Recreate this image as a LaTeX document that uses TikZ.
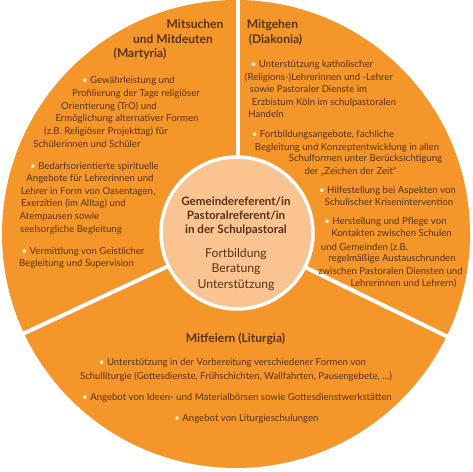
\documentclass[tikz,border=0pt]{standalone}
\usepackage{fontspec}
\setmainfont{Lato}
\usepackage{xcolor}
\definecolor{ringorange}{HTML}{F4962A}
\definecolor{hubpeach}{HTML}{F9C48F}
\definecolor{inkbrown}{HTML}{553219}
\definecolor{dotcream}{HTML}{FFF3C8}
\newcommand{\blt}{{\color{dotcream}\textbullet}\ }

\begin{document}
\begin{tikzpicture}[x=1pt, y=1pt,
		body/.style={anchor=base, inner sep=0pt, text=inkbrown, font=\fontsize{9.6}{11}\selectfont},
		head/.style={anchor=base, inner sep=0pt, text=inkbrown, font=\fontsize{12}{14}\selectfont\bfseries},
		hubhead/.style={anchor=base, inner sep=0pt, text=inkbrown, font=\fontsize{11.6}{14}\selectfont\bfseries},
		hubbody/.style={anchor=base, inner sep=0pt, text=inkbrown, font=\fontsize{12.2}{14}\selectfont}]
			\useasboundingbox (-237, -237) rectangle (236, 234);
			
			%Disc
			\fill[ringorange] (-1, 0) circle(234);
			
			%Dividers
			\draw[white, line width=4pt] (1, 77) -- (1, 236);
			\draw[white, line width=4pt] (205:77) -- (205:240);
			\draw[white, line width=4pt] (334:77) -- (334:240);
			
			%Hub
			\filldraw[fill=hubpeach, draw=white, line width=3.5pt] (0, 1) circle(76);
			
			%Martyria
			\node[head] (mt1) at (-42, 205) {Mitsuchen};
			\node[head] (mt2) at (-64, 190) {und Mitdeuten};
			\node[head] (mt3) at (-97, 176) {(Martyria)};
			
			\node[body] (ma1) at (-108.5, 150) {\blt Gewährleistung und};
			\node[body] (ma2) at (-101, 137) {Profilierung der Tage religiöser};
			\node[body] (ma3) at (-128, 124.5) {Orientierung (TrO) und};
			\node[body] (ma4) at (-110, 112) {Ermöglichung alternativer Formen};
			\node[body] (ma5) at (-131, 99.5) {(z.B. Religiöser Projekttag) für};
			\node[body] (ma6) at (-150, 87) {Schülerinnen und Schüler};
			
			\node[body] (mb1) at (-142.5, 65) {\blt Bedarfsorientierte spirituelle};
			\node[body] (mb2) at (-147, 53) {Angebote für Lehrerinnen und};
			\node[body] (mb3) at (-149, 40) {Lehrer in Form von Oasentagen,};
			\node[body] (mb4) at (-163.5, 28) {Exerzitien (im Alltag) und};
			\node[body] (mb5) at (-177.5, 15) {Atempausen sowie};
			\node[body] (mb6) at (-166, 2) {seelsorgliche Begleitung};
			
			\node[body] (mc1) at (-154, -20) {\blt Vermittlung von Geistlicher};
			\node[body] (mc2) at (-160.5, -32) {Begleitung und Supervision};
			
			%Diakonia
			\node[head] (dt1) at (35.5, 205) {Mitgehen};
			\node[head] (dt2) at (38.5, 190) {(Diakonia)};
			
			\node[body] (da1) at (75, 166) {\blt Unterstützung katholischer};
			\node[body] (da2) at (82, 153) {(Religions-)Lehrerinnen und -Lehrer};
			\node[body] (da3) at (71.5, 141) {sowie Pastoraler Dienste im};
			\node[body] (da4) at (87, 128) {Erzbistum Köln im schulpastoralen};
			\node[body] (da5) at (29, 116) {Handeln};
			
			\node[body] (db1) at (86, 96) {\blt Fortbildungsangebote, fachliche};
			\node[body] (db2) at (110, 84) {Begleitung und Konzeptentwicklung in allen};
			\node[body] (db3) at (128.5, 73) {Schulformen unter Berücksichtigung};
			\node[body] (db4) at (113.5, 60) {der „Zeichen der Zeit“};
			
			\node[body] (dc1) at (150.5, 41) {\blt Hilfestellung bei Aspekten von};
			\node[body] (dc2) at (152, 29) {Schulischer Krisenintervention};
			
			\node[body] (dd1) at (148.5, 10) {\blt Herstellung und Pflege von};
			\node[body] (dd2) at (154.5, -2) {Kontakten zwischen Schulen};
			\node[body] (dd3) at (127.5, -16) {und Gemeinden (z.B.};
			\node[body] (dd4) at (155, -27) {regelmäßige Austauschrunden};
			\node[body] (dd5) at (153.5, -40) {zwischen Pastoralen Diensten und};
			\node[body] (dd6) at (166.5, -52) {Lehrerinnen und Lehrern)};
			
			%Liturgia
			\node[head] (lt1) at (-1.5, -108) {Mitfeiern (Liturgia)};
			
			\node[body] (la1) at (-4.5, -131) {\blt Unterstützung in der Vorbereitung verschiedener Formen von};
			\node[body] (la2) at (-1, -145) {Schulliturgie (Gottesdienste, Frühschichten, Wallfahrten, Pausengebete, …)};
			\node[body] (lb1) at (0, -166) {\blt Angebot von Ideen- und Materialbörsen sowie Gottesdienstwerkstätten};
			\node[body] (lc1) at (9.5, -187) {\blt Angebot von Liturgieschulungen};
			
			%Hub text
			\node[hubhead] (hh1) at (-1, 29) {Gemeindereferent/in};
			\node[hubhead] (hh2) at (-1, 15) {Pastoralreferent/in};
			\node[hubhead] (hh3) at (-1, 1) {in der Schulpastoral};
			\node[hubbody] (hb1) at (-1, -23) {Fortbildung};
			\node[hubbody] (hb2) at (-1, -38) {Beratung};
			\node[hubbody] (hb3) at (-1, -54) {Unterstützung};
			\end{tikzpicture}
\end{document}
